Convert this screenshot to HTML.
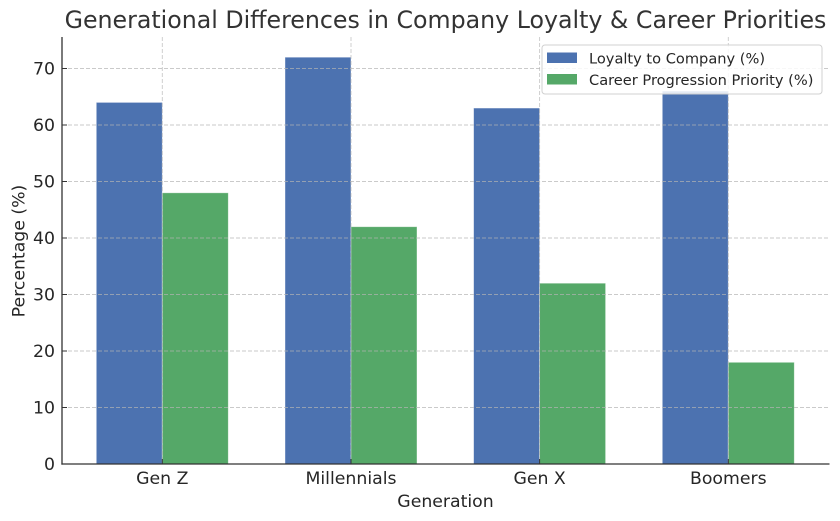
<!DOCTYPE html>
<html>
<head>
<meta charset="utf-8">
<style>
html,body{margin:0;padding:0;background:#fff;}
svg{display:block;font-family:"DejaVu Sans","Liberation Sans",sans-serif;}
</style>
</head>
<body>
<svg width="840" height="521" viewBox="0 0 840 521" xmlns="http://www.w3.org/2000/svg">
<rect width="840" height="521" fill="#fff"/>
<!-- title -->
<text x="445.5" y="28" text-anchor="middle" font-size="23.7" fill="#333">Generational Differences in Company Loyalty &amp; Career Priorities</text>

<!-- bars -->
<g stroke="#ffffff" stroke-opacity="0.5" stroke-width="0.8">
<rect x="96.3" y="102.4" width="66" height="361.6" fill="#4c72b0"/>
<rect x="162.3" y="192.8" width="66" height="271.2" fill="#55a868"/>
<rect x="285" y="57.2" width="66" height="406.8" fill="#4c72b0"/>
<rect x="351" y="226.7" width="66" height="237.3" fill="#55a868"/>
<rect x="473.6" y="108.05" width="66" height="355.95" fill="#4c72b0"/>
<rect x="539.6" y="283.2" width="66" height="180.8" fill="#55a868"/>
<rect x="662.3" y="91.1" width="66" height="372.9" fill="#4c72b0"/>
<rect x="728.3" y="362.3" width="66" height="101.7" fill="#55a868"/>
</g>

<!-- grid -->
<g stroke="#b4b4b4" stroke-opacity="0.7" stroke-width="0.9" stroke-dasharray="4,2" fill="none">
<line x1="62" y1="407.5" x2="829" y2="407.5"/>
<line x1="62" y1="351" x2="829" y2="351"/>
<line x1="62" y1="294.5" x2="829" y2="294.5"/>
<line x1="62" y1="238" x2="829" y2="238"/>
<line x1="62" y1="181.5" x2="829" y2="181.5"/>
<line x1="62" y1="125" x2="829" y2="125"/>
<line x1="62" y1="68.5" x2="829" y2="68.5"/>
<line x1="162.3" y1="37" x2="162.3" y2="464"/>
<line x1="351" y1="37" x2="351" y2="464"/>
<line x1="539.6" y1="37" x2="539.6" y2="464"/>
<line x1="728.3" y1="37" x2="728.3" y2="464"/>
</g>

<!-- spines -->
<g stroke="#333" stroke-width="1.3">
<line x1="62" y1="37" x2="62" y2="464.6"/>
<line x1="61.4" y1="464" x2="829.5" y2="464"/>
</g>
<!-- ticks (inward) -->
<g stroke="#333" stroke-width="1">
<line x1="62" y1="464" x2="67" y2="464"/>
<line x1="62" y1="407.5" x2="67" y2="407.5"/>
<line x1="62" y1="351" x2="67" y2="351"/>
<line x1="62" y1="294.5" x2="67" y2="294.5"/>
<line x1="62" y1="238" x2="67" y2="238"/>
<line x1="62" y1="181.5" x2="67" y2="181.5"/>
<line x1="62" y1="125" x2="67" y2="125"/>
<line x1="62" y1="68.5" x2="67" y2="68.5"/>
<line x1="162.3" y1="464" x2="162.3" y2="459"/>
<line x1="351" y1="464" x2="351" y2="459"/>
<line x1="539.6" y1="464" x2="539.6" y2="459"/>
<line x1="728.3" y1="464" x2="728.3" y2="459"/>
</g>

<!-- y tick labels -->
<g font-size="17.3" fill="#262626" text-anchor="end">
<text x="55" y="470">0</text>
<text x="55" y="413.5">10</text>
<text x="55" y="357">20</text>
<text x="55" y="300.5">30</text>
<text x="55" y="244">40</text>
<text x="55" y="187.5">50</text>
<text x="55" y="131">60</text>
<text x="55" y="74.5">70</text>
</g>
<!-- x tick labels -->
<g font-size="17.3" fill="#262626" text-anchor="middle">
<text x="162.3" y="484">Gen Z</text>
<text x="351" y="484">Millennials</text>
<text x="539.6" y="484">Gen X</text>
<text x="728.3" y="484">Boomers</text>
</g>
<!-- axis labels -->
<text x="445.5" y="507" font-size="17.3" fill="#262626" text-anchor="middle">Generation</text>
<text transform="translate(24.5,251) rotate(-90)" font-size="17.3" fill="#262626" text-anchor="middle">Percentage (%)</text>

<!-- legend -->
<rect x="542" y="45" width="280" height="49" rx="3" fill="#fff" fill-opacity="0.85" stroke="#d0d0d0" stroke-width="1"/>
<rect x="547" y="52.5" width="30" height="10.5" fill="#4c72b0"/>
<rect x="547" y="74" width="30" height="10.5" fill="#55a868"/>
<g font-size="14.6" fill="#262626">
<text x="589" y="63.3">Loyalty to Company (%)</text>
<text x="589" y="85">Career Progression Priority (%)</text>
</g>
</svg>
</body>
</html>
